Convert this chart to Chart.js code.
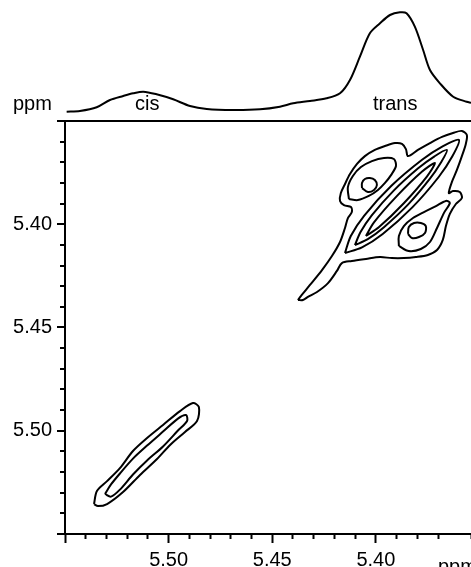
<!DOCTYPE html>
<html>
<head>
<meta charset="utf-8">
<script src="https://cdn.jsdelivr.net/npm/chart.js"></script>
<style>
  html, body { margin: 0; padding: 0; background: #fff; }
  #wrap { position: relative; width: 471px; height: 567px; overflow: hidden; }
  #wrap span { position: absolute; font: 20px 'Liberation Sans', Arial, sans-serif; line-height: 20px; color: #000; white-space: nowrap; }
</style>
</head>
<body>
<div id="wrap">
  <canvas id="nmr" width="471" height="567"></canvas>
  <span style="left:13px; top:93px">ppm</span>
  <span style="left:135px; top:93px">cis</span>
  <span style="left:373px; top:93px">trans</span>
  <span style="left:438px; top:556px">ppm</span>
</div>
<script>
// axis ranges in ppm (both axes run from high to low)
const xRange = [5.3541, 5.55];
const yRange = [5.35, 5.55];
const majorTicks = [5.35, 5.40, 5.45, 5.50, 5.55];
const tickLabels = ['5.40', '5.45', '5.50'];

// 1D projection along the top: [ppm, intensity]
const projection = [
  [5.5492, 0.3], [5.5428, 1], [5.5347, 4.7], [5.5283, 12], [5.5219, 16], [5.5171, 18.7],
  [5.5122, 20.3], [5.5058, 17.7], [5.4978, 12.7], [5.4897, 6], [5.4816, 3], [5.4688, 2],
  [5.4559, 2.7], [5.4463, 5.3], [5.4399, 8.7], [5.4318, 11], [5.4238, 13.7], [5.4173, 18.7],
  [5.4125, 32], [5.4077, 55.3], [5.4029, 78.7], [5.3980, 88.7], [5.3932, 97], [5.3884, 99.7],
  [5.3852, 98.7], [5.3812, 85.3], [5.3772, 62], [5.3739, 42], [5.3691, 28.7], [5.3627, 15.3],
  [5.3562, 10.3], [5.3541, 9.3]
];

// contours, [F2 ppm, F1 ppm]
const cisOuter = [
  [5.5360, 5.5355], [5.5346, 5.5292], [5.5297, 5.5244], [5.5235, 5.5181], [5.5172, 5.5098],
  [5.5104, 5.5035], [5.5027, 5.4972], [5.4945, 5.4905], [5.4883, 5.4866], [5.4854, 5.4885],
  [5.4863, 5.4953], [5.4921, 5.5006], [5.4993, 5.5069], [5.5056, 5.5137], [5.5138, 5.5214],
  [5.5220, 5.5297], [5.5297, 5.5355], [5.5341, 5.5365]
];
const cisInner = [
  [5.5307, 5.5306], [5.5278, 5.5260], [5.5235, 5.5207], [5.5172, 5.5135], [5.5104, 5.5072],
  [5.5027, 5.5004], [5.4955, 5.4941], [5.4916, 5.4924], [5.4911, 5.4953], [5.4955, 5.4999],
  [5.5027, 5.5076], [5.5104, 5.5144], [5.5172, 5.5212], [5.5235, 5.5285], [5.5278, 5.5319]
];
const transOuter = [
  [5.4376, 5.4367], [5.4352, 5.4367], [5.4328, 5.4352], [5.4284, 5.4328], [5.4231, 5.4285],
  [5.4188, 5.4226], [5.4164, 5.4188], [5.4116, 5.4178], [5.4048, 5.4168], [5.3980, 5.4159],
  [5.3923, 5.4164], [5.3865, 5.4164], [5.3807, 5.4159], [5.3749, 5.4149], [5.3705, 5.4125],
  [5.3677, 5.4076], [5.3662, 5.4009], [5.3643, 5.3950], [5.3614, 5.3902], [5.3585, 5.3873],
  [5.3595, 5.3844], [5.3628, 5.3839], [5.3648, 5.3849], [5.3633, 5.3795], [5.3609, 5.3737],
  [5.3585, 5.3670], [5.3566, 5.3611], [5.3561, 5.3568], [5.3585, 5.3548], [5.3628, 5.3558],
  [5.3681, 5.3577], [5.3739, 5.3607], [5.3797, 5.3640], [5.3845, 5.3670], [5.3855, 5.3636],
  [5.3874, 5.3611], [5.3908, 5.3607], [5.3956, 5.3621], [5.4005, 5.3640], [5.4053, 5.3670],
  [5.4091, 5.3708], [5.4125, 5.3757], [5.4149, 5.3805], [5.4169, 5.3849], [5.4173, 5.3887],
  [5.4154, 5.3907], [5.4120, 5.3917], [5.4116, 5.3941], [5.4135, 5.3970], [5.4149, 5.4018],
  [5.4173, 5.4086], [5.4212, 5.4154], [5.4260, 5.4222], [5.4318, 5.4294], [5.4362, 5.4348]
];
const upperLobeRing = [
  [5.4130, 5.3878], [5.4135, 5.3820], [5.4111, 5.3766], [5.4072, 5.3723], [5.4019, 5.3694],
  [5.3961, 5.3679], [5.3913, 5.3684], [5.3903, 5.3718], [5.3927, 5.3762], [5.3956, 5.3800],
  [5.3990, 5.3834], [5.4034, 5.3863], [5.4087, 5.3883]
];
const upperLobeCore = [
  [5.4067, 5.3825], [5.4067, 5.3800], [5.4053, 5.3781], [5.4029, 5.3776], [5.4005, 5.3786],
  [5.3995, 5.3810], [5.4009, 5.3834], [5.4038, 5.3844]
];
const ridge1 = [
  [5.4149, 5.4139], [5.4067, 5.4112], [5.3967, 5.4047], [5.3823, 5.3917], [5.3696, 5.3770],
  [5.3631, 5.3671], [5.3599, 5.3592], [5.3678, 5.3623], [5.3777, 5.3688], [5.3925, 5.3814],
  [5.4056, 5.3958], [5.4121, 5.4057]
];
const ridge2 = [
  [5.4101, 5.4101], [5.4039, 5.4072], [5.3961, 5.4014], [5.3844, 5.3904], [5.3741, 5.3782],
  [5.3686, 5.3701], [5.3657, 5.3640], [5.3717, 5.3671], [5.3796, 5.3729], [5.3914, 5.3837],
  [5.4020, 5.3957], [5.4074, 5.4038]
];
const ridge3 = [
  [5.4048, 5.4057], [5.3986, 5.4015], [5.3864, 5.3897], [5.3753, 5.3768], [5.3715, 5.3703],
  [5.3777, 5.3745], [5.3899, 5.3864], [5.4010, 5.3992]
];
const lowerLobeRing = [
  [5.3889, 5.4105], [5.3889, 5.4057], [5.3865, 5.4009], [5.3821, 5.3970], [5.3768, 5.3941],
  [5.3710, 5.3912], [5.3662, 5.3887], [5.3643, 5.3897], [5.3672, 5.3946], [5.3705, 5.4018],
  [5.3739, 5.4086], [5.3783, 5.4120], [5.3841, 5.4130]
];
const lowerLobeCore = [
  [5.3845, 5.4047], [5.3841, 5.4013], [5.3816, 5.3994], [5.3783, 5.3994], [5.3759, 5.4009],
  [5.3763, 5.4042], [5.3792, 5.4062], [5.3826, 5.4067]
];

const contours = [cisOuter, cisInner, transOuter, upperLobeRing, upperLobeCore,
  ridge1, ridge2, ridge3, lowerLobeRing, lowerLobeCore];

const isMajor = v => majorTicks.some(m => Math.abs(m - v) < 1e-6);
const tickText = v => {
  const s = v.toFixed(2);
  return isMajor(v) && tickLabels.includes(s) ? s : '';
};
const toPts = arr => arr.map(p => ({ x: p[0], y: p[1] }));

const datasets = contours.map(c => ({
  data: toPts(c.concat([c[0]])),
  showLine: true,
  borderColor: '#000',
  borderWidth: 2,
  pointRadius: 0,
  tension: 0.3,
  fill: false,
  yAxisID: 'y'
}));
datasets.push({
  data: toPts(projection),
  showLine: true,
  borderColor: '#000',
  borderWidth: 2,
  pointRadius: 0,
  tension: 0.3,
  fill: false,
  clip: false,
  yAxisID: 'yP'
});

const tickFont = { family: "'Liberation Sans', Arial, sans-serif", size: 20 };

new Chart(document.getElementById('nmr'), {
  type: 'scatter',
  data: { datasets: datasets },
  options: {
    responsive: false,
    animation: false,
    devicePixelRatio: 1,
    layout: { padding: 0 },
    plugins: { legend: { display: false }, tooltip: { enabled: false } },
    scales: {
      x: {
        type: 'linear',
        position: 'bottom',
        reverse: true,
        min: xRange[0],
        max: xRange[1],
        ticks: { stepSize: 0.01, autoSkip: false, maxRotation: 0, padding: 5,
                 color: '#000', font: tickFont, callback: tickText },
        grid: { drawOnChartArea: false, tickLength: 9, tickWidth: 2, tickColor: '#000',
                tickBorderDash: ctx => isMajor(ctx.tick.value) ? [] : [4, 20] },
        border: { color: '#000', width: 2 },
        afterFit: s => { s.height = 33; s.paddingLeft = 0; s.paddingRight = 0; }
      },
      yP: {
        type: 'linear',
        position: 'left',
        stack: 'v',
        stackWeight: 121,
        weight: 1,
        min: -9,
        max: 112,
        ticks: { display: false },
        grid: { display: false, drawTicks: false },
        border: { display: false },
        afterFit: s => { s.width = 0; s.paddingTop = 0; s.paddingBottom = 0; }
      },
      y: {
        type: 'linear',
        position: 'left',
        stack: 'v',
        stackWeight: 413,
        weight: 0,
        reverse: true,
        min: yRange[0],
        max: yRange[1],
        ticks: { stepSize: 0.01, autoSkip: false, padding: 5,
                 color: '#000', font: tickFont, callback: tickText },
        grid: {
          drawOnChartArea: true,
          tickLength: 8,
          tickWidth: 2,
          tickColor: '#000',
          lineWidth: 2,
          color: ctx => Math.abs(ctx.tick.value - yRange[0]) < 1e-6 ? '#000' : 'rgba(0,0,0,0)',
          tickBorderDash: ctx => isMajor(ctx.tick.value) ? [] : [0, 3, 5, 0]
        },
        border: { color: '#000', width: 2 },
        afterFit: s => { s.width = 65; s.paddingTop = 0; s.paddingBottom = 0; }
      }
    }
  }
});
</script>
</body>
</html>
